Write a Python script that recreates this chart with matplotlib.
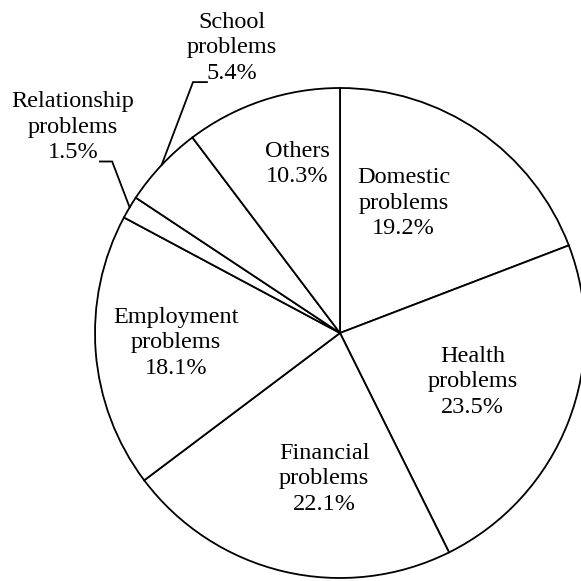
import numpy as np
import matplotlib
matplotlib.use("Agg")
import matplotlib.pyplot as plt

# Reasons reported, clockwise from 12 o'clock (percent)
categories = ["Domestic\nproblems", "Health\nproblems", "Financial\nproblems",
              "Employment\nproblems", "Relationship\nproblems", "School\nproblems",
              "Others"]
shares = [19.2, 23.5, 22.1, 18.1, 1.5, 5.4, 10.3]

# Label anchor positions (in units of the pie radius) for the inside labels
inside_pos = {
    "Domestic\nproblems": (0.26, 0.53),
    "Health\nproblems": (0.54, -0.20),
    "Financial\nproblems": (-0.065, -0.595),
    "Employment\nproblems": (-0.67, -0.04),
    "Others": (-0.175, 0.69),
}

plt.rcParams["font.family"] = ["Liberation Serif", "DejaVu Serif"]

fig = plt.figure(figsize=(5.81, 5.81), dpi=100)
ax = fig.add_axes([0, 0, 1, 1])

wedges, _ = ax.pie(
    shares, startangle=90, counterclock=False, radius=1.0,
    colors=["white"] * len(shares),
    wedgeprops=dict(edgecolor="black", linewidth=1.3),
)

fs = 17.5
ls = 1.28
for lab, val, w in zip(categories, shares, wedges):
    txt = f"{lab}\n{val:.1f}%"
    if lab in inside_pos:
        x, y = inside_pos[lab]
        ax.text(x, y, txt, ha="center", va="center", fontsize=fs,
                linespacing=ls)

# Small slices get outside labels with leader lines
def arc_point(w):
    mid = np.deg2rad((w.theta1 + w.theta2) / 2)
    return np.cos(mid), np.sin(mid)

rel = wedges[4]
px, py = arc_point(rel)
ax.plot([-0.98, -0.93, px], [0.70, 0.70, py], color="black", lw=1.3,
        solid_joinstyle="miter")
ax.text(-1.09, 0.84, f"{categories[4]}\n{shares[4]:.1f}%", ha="center",
        va="center", fontsize=fs, linespacing=ls)

sch = wedges[5]
px, py = arc_point(sch)
ax.plot([px, -0.60, -0.543], [py, 1.024, 1.024], color="black", lw=1.3,
        solid_joinstyle="miter")
ax.text(-0.44, 1.165, f"{categories[5]}\n{shares[5]:.1f}%", ha="center",
        va="center", fontsize=fs, linespacing=ls)

ax.set_xlim(-340 / 245, 241 / 245)
ax.set_ylim(-248 / 245, 333 / 245)
ax.set_aspect("equal")
ax.axis("off")

fig.savefig("out.png", dpi=100, facecolor="white")
